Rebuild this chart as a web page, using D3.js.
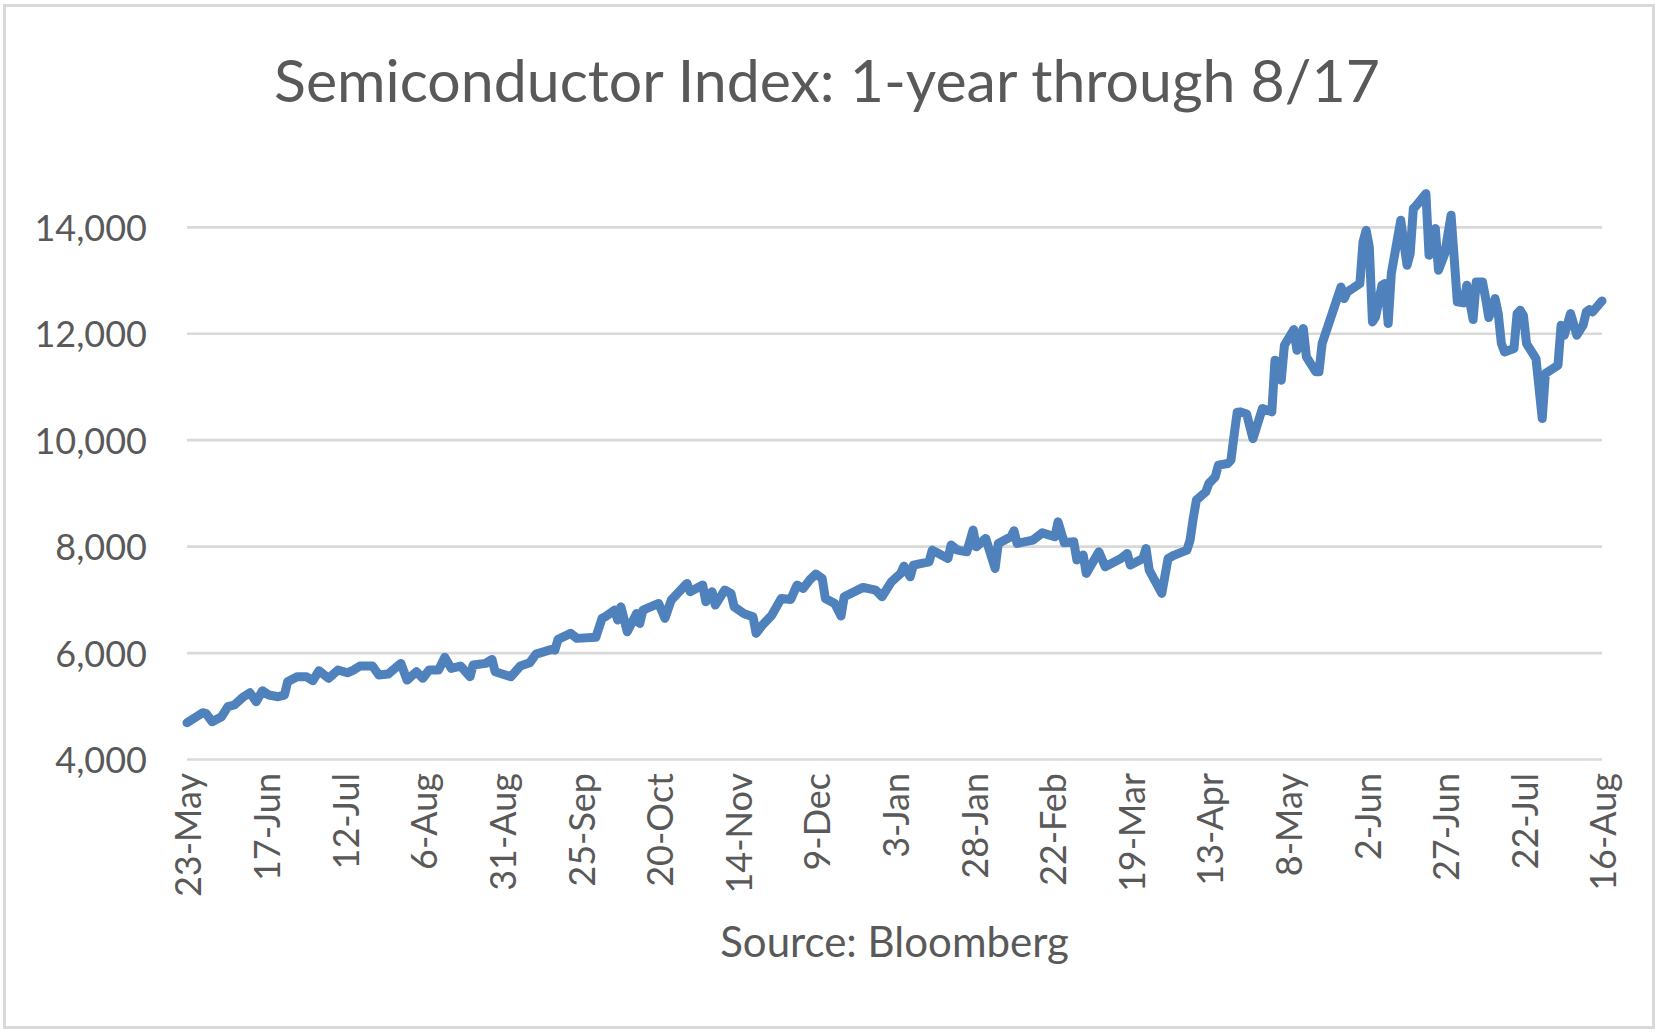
<!DOCTYPE html>
<html>
<head>
<meta charset="utf-8">
<title>Semiconductor Index</title>
<script src="https://cdn.jsdelivr.net/npm/d3@7"></script>
<style>
    body { margin: 0; background: #fff; }
    svg { display: block; }
    text { font-family: Lato, 'Open Sans', sans-serif; fill: #595959; }
</style>
</head>
<body>
<div id="chart"></div>
<script>
// Chart data
var startDate = new Date(2016, 4, 23);   // 23-May
var tickStepDays = 25;
var tickCount = 19;                      // 23-May ... 16-Aug
var yTicks = [4000, 6000, 8000, 10000, 12000, 14000];

// days since 23-May
var dayOffsets = [
    0, 5, 6, 8, 11, 13, 15, 18, 20, 22, 24, 26, 29, 31, 32, 35, 38, 40, 42, 45,
    48, 51, 53, 55, 59, 61, 64, 68, 70, 73, 75, 77, 80, 82, 84, 87, 90, 91, 95, 97,
    98, 103, 106, 109, 111, 116, 117, 118, 122, 124, 130, 132, 133, 136, 137, 138, 140, 143, 144, 145,
    150, 152, 154, 159, 160, 164, 165, 167, 168, 171, 173, 174, 177, 180, 181, 183, 186, 189, 192, 194,
    196, 198, 200, 202, 203, 206, 208, 209, 215, 219, 221, 224, 227, 228, 230, 231, 236, 237, 242, 243,
    245, 248, 250, 251, 254, 257, 258, 262, 263, 264, 269, 272, 276, 277, 279, 282, 283, 285, 286, 290,
    292, 297, 299, 300, 304, 305, 306, 310, 312, 314, 318, 319, 320, 321, 324, 325, 327, 328, 331, 332,
    333, 334, 335, 337, 339, 342, 345, 346, 347, 348, 349, 352, 353, 355, 356, 359, 360, 361, 367, 368,
    369, 373, 374, 375, 376, 377, 378, 380, 381, 382, 383, 386, 388, 389, 390, 391, 394, 395, 397, 398,
    400, 402, 404, 406, 407, 409, 410, 412, 413, 414, 416, 417, 418, 419, 422, 423, 424, 425, 426, 429,
    431, 432, 436, 437, 438, 440, 442, 444, 445, 446, 447, 450
];

// index level
var indexValues = [
    4691, 4879, 4868, 4710, 4804, 4992, 5024, 5180, 5255, 5085, 5292, 5211, 5180, 5211, 5461, 5555, 5555, 5480, 5668, 5525,
    5681, 5630, 5681, 5756, 5756, 5587, 5606, 5806, 5493, 5649, 5525, 5681, 5681, 5919, 5713, 5756, 5555, 5775, 5806, 5881,
    5649, 5555, 5756, 5818, 5981, 6069, 6056, 6257, 6370, 6276, 6295, 6652, 6682, 6808, 6620, 6870, 6400, 6745, 6558, 6808,
    6933, 6652, 6995, 7309, 7152, 7277, 6964, 7152, 6902, 7183, 7121, 6870, 6745, 6682, 6370, 6526, 6714, 7027, 7008, 7277,
    7215, 7371, 7484, 7403, 7027, 6933, 6695, 7058, 7234, 7183, 7058, 7339, 7497, 7634, 7433, 7653, 7715, 7934, 7778, 8028,
    7934, 7903, 8310, 7996, 8154, 7590, 8060, 8184, 8297, 8060, 8122, 8259, 8184, 8466, 8072, 8091, 7747, 7841, 7497, 7903,
    7621, 7778, 7872, 7653, 7778, 7966, 7559, 7121, 7778, 7841, 7934, 8122, 8530, 8873, 9029, 9187, 9311, 9530, 9562, 9625,
    10094, 10526, 10532, 10490, 10030, 10595, 10532, 11503, 11471, 11127, 11784, 12079, 11690, 12098, 11565, 11284, 11284, 11816, 12879, 12661,
    12785, 12943, 13724, 13944, 13630, 12222, 12316, 12911, 12943, 12191, 13131, 14132, 13287, 13506, 14351, 14413, 14633, 13475, 13976, 13193,
    13506, 14226, 12598, 12579, 12911, 12267, 12973, 12973, 12661, 12304, 12661, 12379, 11816, 11659, 11722, 12379, 12441, 12347, 11816, 11534,
    10408, 11253, 11409, 12160, 11972, 12379, 11972, 12160, 12410, 12454, 12410, 12617
];

var width = 1659;
var height = 1035;
var plot = { left: 187, right: 1602, top: 227.3, bottom: 759.5 };

var data = dayOffsets.map(function(d, i) {
    return { date: d3.timeDay.offset(startDate, d), value: indexValues[i] };
});

var tickDates = d3.range(tickCount).map(function(i) {
    return d3.timeDay.offset(startDate, i * tickStepDays);
});

var x = d3.scaleTime()
    .domain([startDate, tickDates[tickDates.length - 1]])
    .range([plot.left, plot.right]);

var y = d3.scaleLinear()
    .domain([4000, 14000])
    .range([plot.bottom, plot.top]);

var svg = d3.select('#chart')
    .append('svg')
    .attr('width', width)
    .attr('height', height);

// chart area border
svg.append('rect')
    .attr('x', 4.5)
    .attr('y', 5.5)
    .attr('width', 1649)
    .attr('height', 1022)
    .attr('fill', '#fff')
    .attr('stroke', '#d9d9d9')
    .attr('stroke-width', 3);

// title
svg.append('text')
    .attr('x', 827)
    .attr('y', 102)
    .attr('text-anchor', 'middle')
    .style('font-size', '59px')
    .text('Semiconductor Index: 1-year through 8/17');

// gridlines
svg.append('g')
    .selectAll('line')
    .data(yTicks)
    .enter()
    .append('line')
    .attr('x1', plot.left)
    .attr('x2', plot.right)
    .attr('y1', d => y(d))
    .attr('y2', d => y(d))
    .attr('stroke', '#d9d9d9')
    .attr('stroke-width', 2.7);

// y axis labels
var yAxis = d3.axisLeft(y)
    .tickValues(yTicks)
    .tickFormat(d3.format(','))
    .tickSize(0)
    .tickPadding(0);

var yG = svg.append('g')
    .attr('transform', 'translate(147,0)')
    .call(yAxis);
yG.select('.domain').remove();
yG.selectAll('text')
    .attr('dy', '0.36em')
    .style('font-family', 'Lato, sans-serif')
    .style('font-size', '36px')
    .style('fill', '#595959');

// x axis labels (rotated)
var xAxis = d3.axisBottom(x)
    .tickValues(tickDates)
    .tickFormat(d3.timeFormat('%-d-%b'))
    .tickSize(0)
    .tickPadding(0);

var xG = svg.append('g')
    .attr('transform', 'translate(0,' + plot.bottom + ')')
    .call(xAxis);
xG.select('.domain').remove();
xG.selectAll('text')
    .attr('transform', 'translate(1,13.5) rotate(-90)')
    .attr('text-anchor', 'end')
    .attr('x', 0)
    .attr('y', 0)
    .attr('dy', '0.36em')
    .style('font-family', 'Lato, sans-serif')
    .style('font-size', '36px')
    .style('fill', '#595959');

// index line
var line = d3.line()
    .x(d => x(d.date))
    .y(d => y(d.value));

svg.append('path')
    .datum(data)
    .attr('d', line)
    .attr('fill', 'none')
    .attr('stroke', '#4f81bd')
    .attr('stroke-width', 9)
    .attr('stroke-linejoin', 'round')
    .attr('stroke-linecap', 'round');

// source note
svg.append('text')
    .attr('x', (plot.left + plot.right) / 2)
    .attr('y', 957)
    .attr('text-anchor', 'middle')
    .style('font-size', '42px')
    .text('Source: Bloomberg');
</script>
</body>
</html>
